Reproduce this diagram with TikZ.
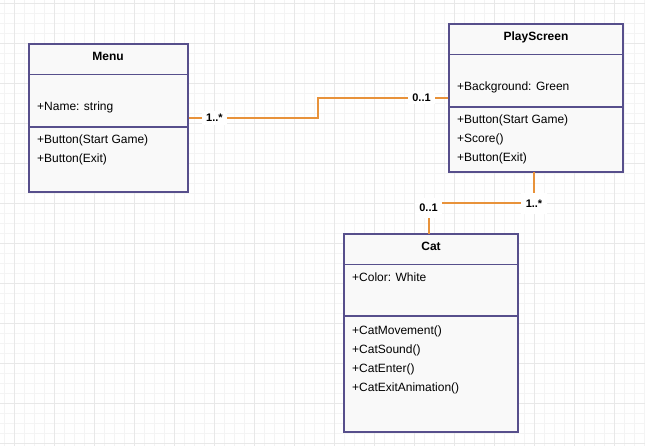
\documentclass[tikz,border=0pt]{standalone}
\usepackage{fontspec}
\setmainfont{Liberation Sans}
\definecolor{boxline}{HTML}{574F8C}
\definecolor{conn}{HTML}{E8923A}
\definecolor{gridminor}{HTML}{F4F4F4}
\definecolor{gridmajor}{HTML}{E8E8E8}
\definecolor{boxfill}{HTML}{F9F9F9}
\tikzset{
  classbox/.style={draw=boxline, line width=1.6pt, fill=boxfill, rectangle, inner sep=0pt},
  sep/.style={draw=boxline, line width=1.6pt},
  title/.style={font=\fontsize{12}{14}\selectfont\bfseries, anchor=base, inner sep=0pt},
  member/.style={font=\fontsize{12}{14}\selectfont, anchor=base west, inner sep=0pt},
  assoc/.style={draw=conn, line width=1.6pt},
  mult/.style={font=\fontsize{11}{13}\selectfont\bfseries, fill=white, inner xsep=4.5pt, inner ysep=3pt}
}
\begin{document}
\begin{tikzpicture}[x=1pt, y=-1pt]
\useasboundingbox (0,0) rectangle (645,446);
\fill[white] (0,0) rectangle (645,446);
% grid
\foreach \i in {0,...,64} { \draw[gridminor, line width=0.6pt] ({4+10*\i},0) -- ({4+10*\i},446); }
\foreach \j in {0,...,44} { \draw[gridminor, line width=0.6pt] (0,{3+10*\j}) -- (645,{3+10*\j}); }
\foreach \i in {0,...,16} { \draw[gridmajor, line width=0.6pt] ({14+40*\i},0) -- ({14+40*\i},446); }
\foreach \j in {0,...,11} { \draw[gridmajor, line width=0.6pt] (0,{3+40*\j}) -- (645,{3+40*\j}); }

% Menu
\node[classbox, minimum width=159pt, minimum height=148pt] (menu) at (108.5,118) {};
\draw[sep] (29,74.5) -- (188,74.5);
\draw[sep] (29,127) -- (188,127);
\node[title] (menuT) at (108,60.7) {Menu};
\node[member] (menuA) at (37,110.7) {+Name: string};
\node[member] (menuM1) at (37,144) {+Button(Start Game)};
\node[member] (menuM2) at (37,162.3) {+Button(Exit)};

% PlayScreen
\node[classbox, minimum width=174pt, minimum height=148pt] (play) at (536,98) {};
\draw[sep] (449,54.5) -- (623,54.5);
\draw[sep] (449,107) -- (623,107);
\node[title] (playT) at (536,40.7) {PlayScreen};
\node[member] (playA) at (457,90.7) {+Background: Green};
\node[member] (playM1) at (457,124) {+Button(Start Game)};
\node[member] (playM2) at (457,143) {+Score()};
\node[member] (playM3) at (457,162) {+Button(Exit)};

% Cat
\node[classbox, minimum width=174pt, minimum height=198pt] (cat) at (431,333) {};
\draw[sep] (344,264.5) -- (518,264.5);
\draw[sep] (344,316) -- (518,316);
\node[title] (catT) at (431,251) {Cat};
\node[member] (catA) at (352,281.7) {+Color: White};
\node[member] (catM1) at (352,334.3) {+CatMovement()};
\node[member] (catM2) at (352,353.3) {+CatSound()};
\node[member] (catM3) at (352,372.3) {+CatEnter()};
\node[member] (catM4) at (352,391) {+CatExitAnimation()};

% connectors
\coordinate (b1) at (318,118);
\draw[assoc] (menu.east) -- (b1) |- (play.west);
\coordinate (b2) at (534,203);
\coordinate (playS) at (534,172);
\coordinate (catN) at (429,234);
\draw[assoc] (playS) -- (b2) -| (catN);

\node[mult] (l1) at (214.5,118) {1..*};
\node[mult] (l2) at (421.5,97.5) {0..1};
\node[mult, inner ysep=6.5pt] (l3) at (534,203.5) {1..*};
\node[mult, inner xsep=4pt, inner ysep=6pt] (l4) at (428.5,208) {0..1};
\end{tikzpicture}
\end{document}
